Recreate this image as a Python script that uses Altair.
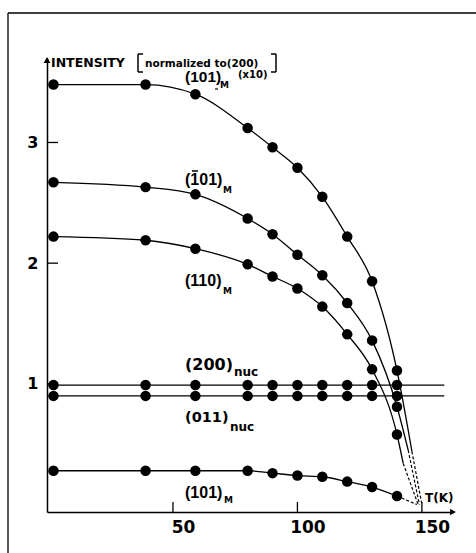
import altair as alt
import pandas as pd

# ---- data ----
T = [2, 39, 59, 80, 90, 100, 110, 120, 130, 140]
I_101_x10 = [3.48, 3.48, 3.40, 3.12, 2.96, 2.79, 2.55, 2.22, 1.85, 1.11]
I_m101 = [2.67, 2.63, 2.57, 2.37, 2.24, 2.07, 1.90, 1.67, 1.36, 0.81]
I_110 = [2.22, 2.19, 2.12, 1.99, 1.89, 1.79, 1.64, 1.41, 1.12, 0.58]
I_200nuc = [0.99, 0.99, 0.99, 0.99, 0.99, 0.99, 0.99, 0.99, 0.99, 0.99]
I_011nuc = [0.90, 0.90, 0.90, 0.90, 0.90, 0.90, 0.90, 0.90, 0.90, 0.90]
I_101 = [0.28, 0.28, 0.28, 0.28, 0.26, 0.24, 0.23, 0.19, 0.145, 0.07]

# solid tails (beyond last point) and dashed extrapolations to zero
series_names = ["101x10", "m101", "110", "101"]
tail_T = [146, 144.5, 142.5, None]
tail_I = [0.44, 0.45, 0.34, None]
zero_T = [150, 149, 148.5, 148]
zero_I = [0.0, 0.0, 0.0, 0.0]

# flat nuclear lines span
nuc_T = [0, 159]

x_ticks = [50, 100, 150]
y_ticks = [1, 2, 3]

# ---- geometry ----
LEFT, TOP = 47, 58
W, H = 406, 454
X_DOM = [-0.6, 162.5]
Y_DOM = [-0.062, 3.70]

curves = {"101x10": I_101_x10, "m101": I_m101, "110": I_110, "101": I_101}

pts_rows, solid_rows, dash_rows = [], [], []
for i, name in enumerate(series_names):
    vals = curves[name]
    for t, v in zip(T, vals):
        pts_rows.append({"s": name, "T": t, "I": v})
        solid_rows.append({"s": name, "T": t, "I": v})
    last_t, last_v = T[-1], vals[-1]
    if tail_T[i] is not None:
        solid_rows.append({"s": name, "T": tail_T[i], "I": tail_I[i]})
        last_t, last_v = tail_T[i], tail_I[i]
    dash_rows.append({"s": name, "T": last_t, "I": last_v})
    dash_rows.append({"s": name, "T": zero_T[i], "I": zero_I[i]})
for name, vals in [("200nuc", I_200nuc), ("011nuc", I_011nuc)]:
    for t, v in zip(T, vals):
        pts_rows.append({"s": name, "T": t, "I": v})

nuc_rows = [{"s": "200nuc", "T": nuc_T[0], "T2": nuc_T[1], "I": I_200nuc[0]},
            {"s": "011nuc", "T": nuc_T[0], "T2": nuc_T[1], "I": I_011nuc[0]}]

pts = pd.DataFrame(pts_rows)
solid = pd.DataFrame(solid_rows)
dash = pd.DataFrame(dash_rows)
nuc = pd.DataFrame(nuc_rows)

xs = alt.Scale(domain=X_DOM, nice=False, zero=False)
ys = alt.Scale(domain=Y_DOM, nice=False, zero=False)

FONT = "DejaVu Sans"
FONT2 = "Liberation Sans"

base_axes = alt.Chart(pd.DataFrame({"T": [X_DOM[0]], "I": [Y_DOM[0]]})).mark_point(opacity=0).encode(
    x=alt.X("T:Q", scale=xs, axis=alt.Axis(values=x_ticks, format="d", title=None, grid=False, ticks=False,
                                            domainColor="black", domainWidth=1.5, labelFont=FONT,
                                            labelFontWeight="bold", labelFontSize=17, labelColor="black",
                                            labelPadding=7, labelOffset=10)),
    y=alt.Y("I:Q", scale=ys, axis=alt.Axis(values=y_ticks, format="d", title=None, grid=False, ticks=False,
                                            domainColor="black", domainWidth=1.5, labelFont=FONT,
                                            labelFontWeight="bold", labelFontSize=16, labelColor="black",
                                            labelPadding=9)),
)

lines = alt.Chart(solid).mark_line(color="black", strokeWidth=1.3, interpolate="monotone").encode(
    x=alt.X("T:Q", scale=xs), y=alt.Y("I:Q", scale=ys), detail="s:N")

dashes = alt.Chart(dash).mark_line(color="black", strokeWidth=1.2, strokeDash=[3, 2]).encode(
    x=alt.X("T:Q", scale=xs), y=alt.Y("I:Q", scale=ys), detail="s:N")

nuc_lines = alt.Chart(nuc).mark_rule(color="black", strokeWidth=1.3).encode(
    x=alt.X("T:Q", scale=xs), x2="T2:Q", y=alt.Y("I:Q", scale=ys))

dots = alt.Chart(pts).mark_circle(color="black", opacity=1, size=110).encode(
    x=alt.X("T:Q", scale=xs), y=alt.Y("I:Q", scale=ys))

yt = alt.Chart(pd.DataFrame({"I": y_ticks})).mark_rule(color="black", strokeWidth=1.3).encode(
    y=alt.Y("I:Q", scale=ys), x=alt.value(0), x2=alt.value(11))
xt = alt.Chart(pd.DataFrame({"T": x_ticks})).mark_rule(color="black", strokeWidth=1.3).encode(
    x=alt.X("T:Q", scale=xs), y=alt.value(H), y2=alt.value(H - 10))

one = pd.DataFrame({"a": [0]})

def px(ax, ay):
    return dict(x=alt.value(ax - LEFT), y=alt.value(ay - TOP))

def txt(label, ax, ay, size, weight="bold", align="left", baseline="middle", font=FONT):
    return alt.Chart(one).mark_text(text=label, font=font, fontSize=size, fontWeight=weight,
                                    align=align, baseline=baseline, color="black").encode(**px(ax, ay))

def arrow(ax, ay, shape):
    return alt.Chart(one).mark_point(shape=shape, filled=True, color="black", opacity=1, size=45).encode(**px(ax, ay))

def hline(ax1, ax2, ay, w=1.3):
    return alt.Chart(one).mark_rule(color="black", strokeWidth=w).encode(
        x=alt.value(ax1 - LEFT), x2=alt.value(ax2 - LEFT), y=alt.value(ay - TOP))

def vline(ax, ay1, ay2, w=1.3):
    return alt.Chart(one).mark_rule(color="black", strokeWidth=w).encode(
        x=alt.value(ax - LEFT), y=alt.value(ay1 - TOP), y2=alt.value(ay2 - TOP))

annots = [
    arrow(47, 60, "triangle-up"),
    arrow(453, 512, "triangle-right"),
    vline(8, 13, 553), hline(8, 476, 13),
    txt("INTENSITY", 51, 63, 12.5),
    # brackets
    vline(138, 54, 72, 1.5), hline(138, 143, 54, 1.5), hline(138, 143, 72, 1.5),
    vline(276, 54, 72, 1.5), hline(271, 276, 54, 1.5), hline(271, 276, 72, 1.5),
    txt("normalized to(200)", 145, 64, 10.5),
    txt("(101)", 185, 77, 15.5, font=FONT2), txt("M", 220, 85, 9), hline(215, 218, 89, 1.2),
    txt("(x10)", 238, 75, 10),
    txt("(101)", 185, 180, 16, font=FONT2), hline(192, 198, 171, 1.5), txt("M", 223, 190, 9),
    txt("(110)", 185, 281, 16, font=FONT2), txt("M", 223, 291, 9),
    txt("(200)", 185, 365, 16), txt("nuc", 234, 372, 12),
    txt("(011)", 185, 418, 14.5), txt("nuc", 230, 427, 12),
    txt("(101)", 185, 493, 16, font=FONT2), txt("M", 224, 500, 9),
    txt("T(K)", 425, 498, 12),
]

chart = alt.layer(base_axes, nuc_lines, lines, dashes, dots, yt, xt, *annots).properties(
    width=W, height=H,
    autosize=alt.AutoSizeParams(type="none"),
    padding={"left": LEFT, "top": TOP, "right": 476 - LEFT - W, "bottom": 553 - TOP - H},
    background="white",
).configure_view(stroke=None)

chart.save("out.html", embed_options={"renderer": "svg", "actions": False})
